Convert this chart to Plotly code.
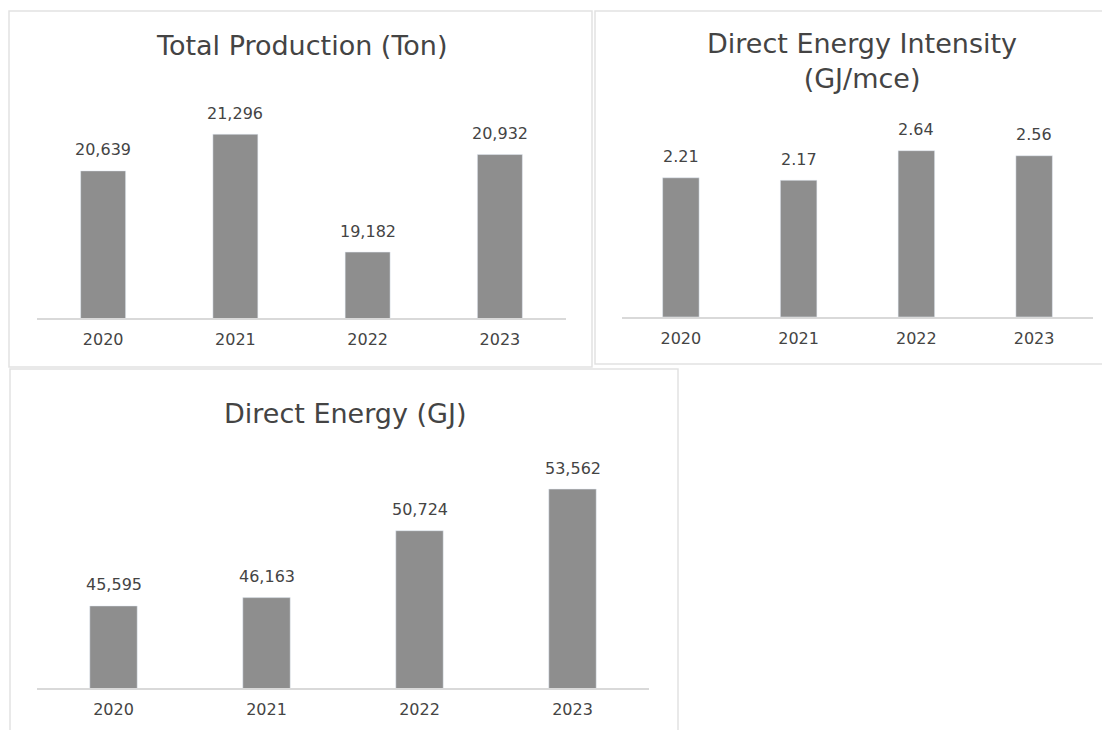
import plotly.graph_objects as go

years = ["2020", "2021", "2022", "2023"]
total_production = [20639, 21296, 19182, 20932]
energy_intensity = [2.21, 2.17, 2.64, 2.56]
direct_energy = [45595, 46163, 50724, 53562]

titles = ["Total Production (Ton)", "Direct Energy Intensity<br>(GJ/mce)", "Direct Energy (GJ)"]

OFF = 8  # page body margin
W, H = 1110 - OFF, 730 - OFF
FONT = "DejaVu Sans"
TXT = "#444444"
BAR = "#8e8e8e"


def px_x(p):
    return (p - OFF) / W


def px_y(p):
    return 1 - (p - OFF) / H


fig = go.Figure()

panels = [
    # (values, fmt, xaxis, yaxis, x0, x1, ytop, ybot, yrange, width)
    (total_production, "{:,}", "x", "y", 37, 566, 95, 318, [18000, 22000], 0.34),
    (energy_intensity, "{:.2f}", "x2", "y2", 622, 1093, 128, 317, [0, 3], 0.31),
    (direct_energy, "{:,}", "x3", "y3", 37, 649, 468, 688, [40000, 55000], 0.31),
]

annotations = []
layout_axes = {}
for i, (vals, fmt, xa, ya, x0, x1, yt, yb, yr, bw) in enumerate(panels):
    fig.add_trace(go.Bar(x=years, y=vals, xaxis=xa, yaxis=ya, marker_color=BAR,
                         width=bw, showlegend=False, hoverinfo="x+y"))
    xk = "xaxis" if i == 0 else f"xaxis{i+1}"
    yk = "yaxis" if i == 0 else f"yaxis{i+1}"
    layout_axes[xk] = dict(type="category", domain=[px_x(x0), px_x(x1)], anchor=ya,
                           range=[-0.5, len(years) - 0.5],
                           showline=True, linecolor="#d9d9d9", linewidth=1.5, ticks="",
                           showgrid=False,
                           tickfont=dict(family=FONT, size=16, color=TXT),
                           ticklabelstandoff=6, fixedrange=True)
    layout_axes[yk] = dict(domain=[px_y(yb), px_y(yt)], anchor=xa, range=yr,
                           showgrid=False, showticklabels=False, zeroline=False,
                           showline=False, fixedrange=True)
    for k, v in enumerate(vals):
        annotations.append(dict(x=k, y=v, xref=xa, yref=ya, text=fmt.format(v),
                                showarrow=False, xanchor="center", yanchor="middle",
                                yshift=21,
                                font=dict(family=FONT, size=16, color=TXT)))

# titles
for (tx, ty, t) in [(301, 46, titles[0]), (862, 61, titles[1]), (345, 413, titles[2])]:
    annotations.append(dict(x=px_x(tx), y=px_y(ty), xref="paper", yref="paper",
                            text=t, showarrow=False, xanchor="center", yanchor="middle",
                            font=dict(family=FONT, size=27, color=TXT)))

shapes = []
for (a, b, c, d) in [(9, 11, 592, 367), (595, 11, 1108, 364), (10, 369, 678, 740)]:
    shapes.append(dict(type="rect", xref="paper", yref="paper",
                       x0=px_x(a), x1=px_x(c), y0=px_y(d), y1=px_y(b),
                       line=dict(color="#e2e2e2", width=1.5), fillcolor="rgba(0,0,0,0)"))

fig.update_layout(width=W, height=H, margin=dict(l=0, r=0, t=0, b=0),
                  paper_bgcolor="white", plot_bgcolor="white",
                  annotations=annotations, shapes=shapes, **layout_axes)

fig.write_html("out.html")
